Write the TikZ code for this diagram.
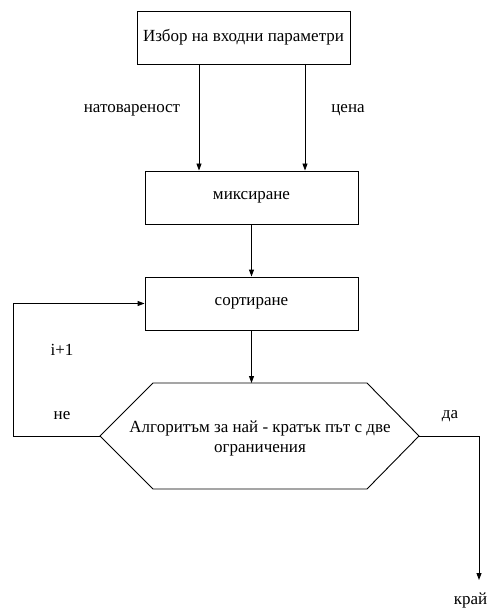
\documentclass[tikz,border=0pt]{standalone}
\usepackage{fontspec}
\setmainfont{Liberation Serif}
\usetikzlibrary{arrows.meta}
\begin{document}
\begin{tikzpicture}[x=1pt,y=-1pt,
  box/.style={draw,line width=0.9pt,minimum width=213pt,minimum height=53pt,inner sep=0pt},
  lbl/.style={inner sep=0pt},
  arr/.style={line width=0.9pt,-{Triangle[length=7pt,width=5pt]}},
  every node/.append style={font=\fontsize{17}{20}\selectfont}]
\useasboundingbox (0,0) rectangle (489,612);
\node[box] (sel) at (243.5,37.5) {Избор на входни параметри};
\node[box] (mix) at (251.5,197.5) {миксиране};
\node[box] (sort) at (251.5,303.5) {сортиране};
\coordinate (hl) at (100,436);
\coordinate (hr) at (419,436);
\coordinate (ht) at (251.5,383);
\draw[line width=0.9pt] (hl) -- (153,383) -- (367,383) -- (hr) -- (367,489) -- (153,489) -- cycle;
\node[align=center,inner sep=0pt] (alg) at (260,438) {Алгоритъм за най - кратък път с две\\ограничения};
\coordinate (h1) at (199,64);
\coordinate (h2) at (305,64);
\draw[arr] (h1) -- (h1 |- mix.north);
\draw[arr] (h2) -- (h2 |- mix.north);
\draw[arr] (mix.south) -- (sort.north);
\draw[arr] (sort.south) -- (ht);
\coordinate (lc) at (13,436);
\draw[arr] (hl) -- (lc) |- (sort.west);
\coordinate (rc) at (479,436);
\coordinate (fin) at (479,580);
\draw[arr] (hr) -- (rc) -- (fin);
\node[lbl] (l1) at (132,110) {натовареност};
\node[lbl] (l2) at (348,110) {цена};
\node[lbl] (l3) at (62,350) {i+1};
\node[lbl] (l4) at (62,416) {не};
\node[lbl] (l5) at (450,416) {да};
\node[lbl,anchor=east] (l6) at (487.5,600) {край};
\end{tikzpicture}
\end{document}
